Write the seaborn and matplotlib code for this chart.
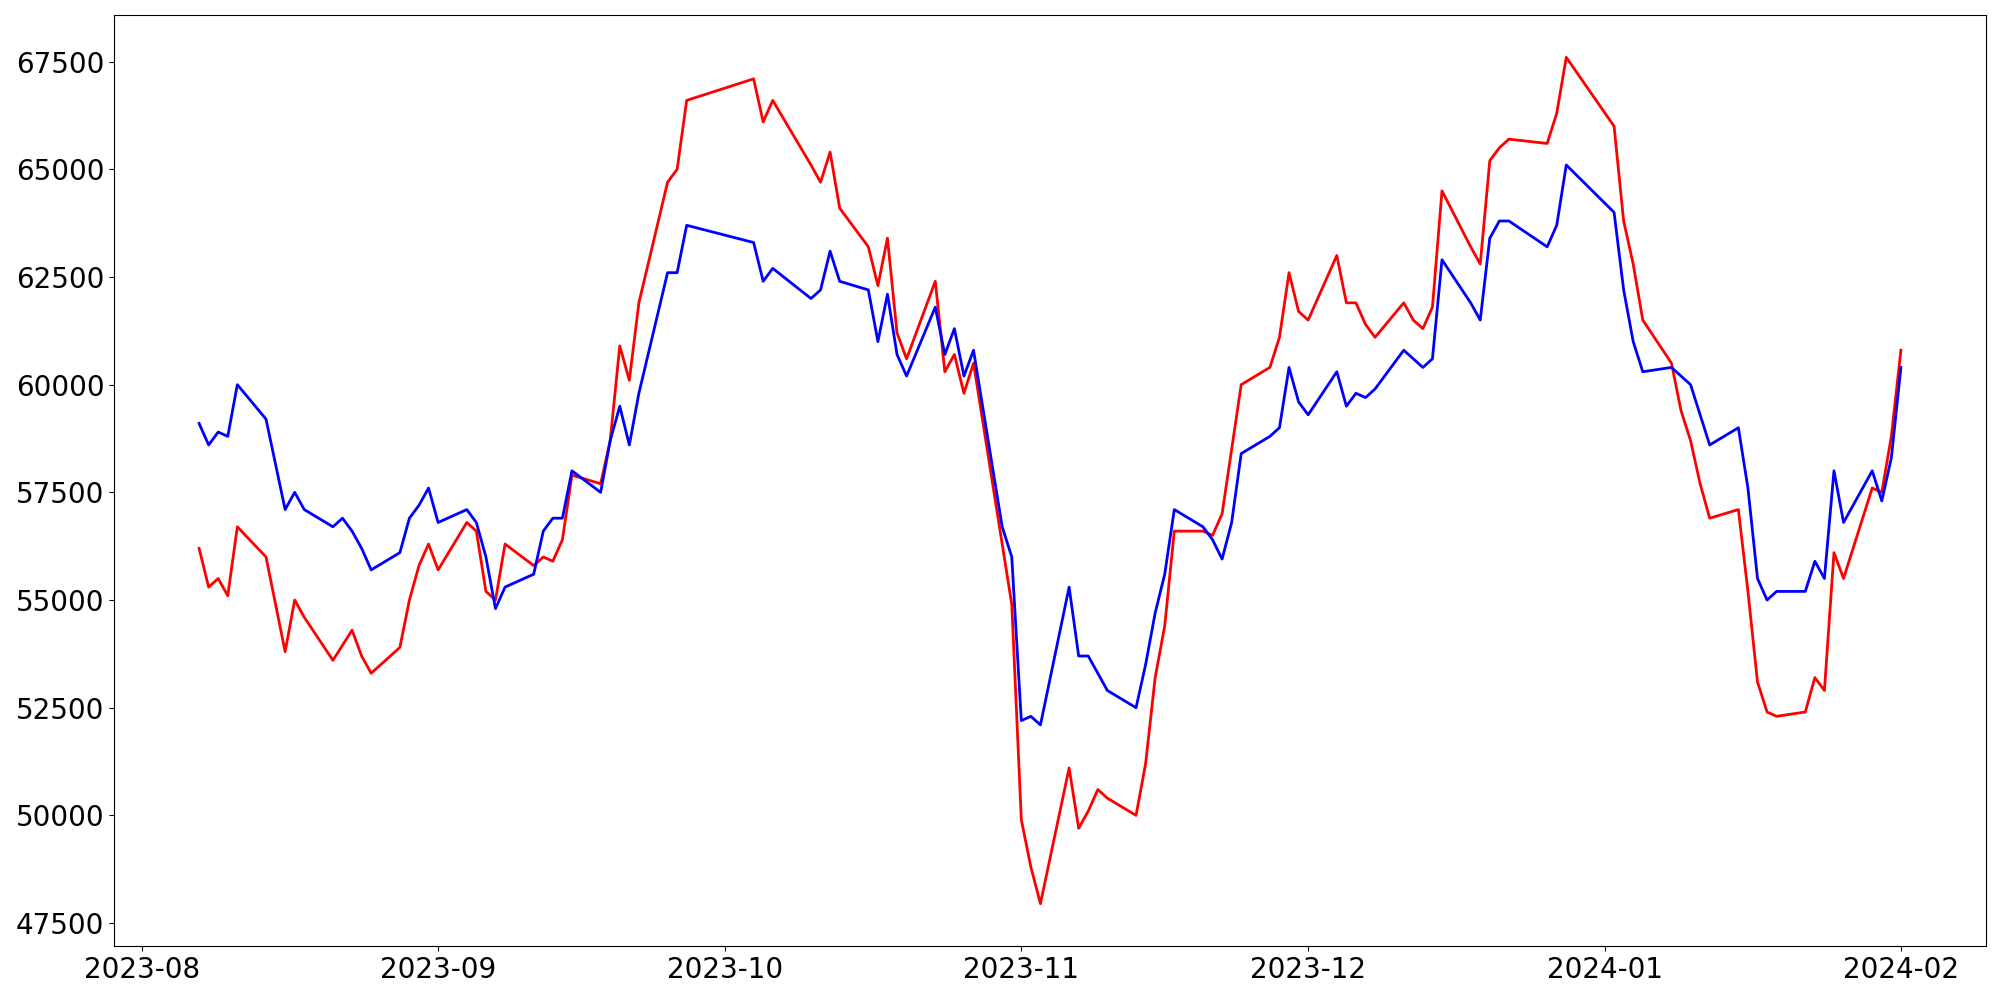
import pandas as pd
import matplotlib
matplotlib.use("Agg")
import matplotlib.pyplot as plt
import seaborn as sns

# jours de bourse (marché coréen) du 2023-08-07 au 2024-02-01
holidays = ["2023-08-15", "2023-09-28", "2023-09-29", "2023-10-02", "2023-10-03",
            "2023-10-09", "2023-12-25", "2023-12-29", "2024-01-01"]
dates = pd.bdate_range("2023-08-07", "2024-02-01", freq="C", holidays=holidays)

# série rouge
red_aug = [56200, 55300, 55500, 55100, 56700, 56000, 53800, 55000, 54600, 53600,
           53950, 54300, 53700, 53300, 53900, 55000, 55800, 56300]
red_sep = [55700, 56800, 56600, 55200, 55000, 56300, 55800, 56000, 55900, 56400,
           57900, 57700, 58700, 60900, 60100, 61900, 64700, 65000, 66600]
red_oct = [67100, 66100, 66600, 65100, 64700, 65400, 64100, 63200, 62300, 63400,
           61200, 60600, 62400, 60300, 60700, 59800, 60500, 56300, 54900]
red_nov = [49900, 48800, 47950, 51100, 49700, 50100, 50600, 50400, 50000, 51200,
           53200, 54400, 56600, 56600, 56500, 57000, 58500, 60000, 60400, 61100,
           62600, 61700]
red_dec = [61500, 63000, 61900, 61900, 61400, 61100, 61900, 61500, 61300, 61800,
           64500, 63200, 62800, 65200, 65500, 65700, 65600, 66300, 67600]
red_jan = [66000, 63800, 62800, 61500, 60500, 59400, 58700, 57700, 56900, 57100,
           55200, 53100, 52400, 52300, 52400, 53200, 52900, 56100, 55500, 57600,
           57500, 58800]
red_feb = [60800]

# série bleue
blue_aug = [59100, 58600, 58900, 58800, 60000, 59200, 57100, 57500, 57100, 56700,
            56900, 56600, 56200, 55700, 56100, 56900, 57200, 57600]
blue_sep = [56800, 57100, 56800, 56000, 54800, 55300, 55600, 56600, 56900, 56900,
            58000, 57500, 58700, 59500, 58600, 59800, 62600, 62600, 63700]
blue_oct = [63300, 62400, 62700, 62000, 62200, 63100, 62400, 62200, 61000, 62100,
            60700, 60200, 61800, 60700, 61300, 60200, 60800, 56700, 56000]
blue_nov = [52200, 52300, 52100, 55300, 53700, 53700, 53300, 52900, 52500, 53500,
            54700, 55600, 57100, 56700, 56400, 55950, 56800, 58400, 58800, 59000,
            60400, 59600]
blue_dec = [59300, 60300, 59500, 59800, 59700, 59900, 60800, 60600, 60400, 60600,
            62900, 61900, 61500, 63400, 63800, 63800, 63200, 63700, 65100]
blue_jan = [64000, 62200, 61000, 60300, 60400, 60200, 60000, 59300, 58600, 59000,
            57600, 55500, 55000, 55200, 55200, 55900, 55500, 58000, 56800, 58000,
            57300, 58300]
blue_feb = [60400]

red_values = red_aug + red_sep + red_oct + red_nov + red_dec + red_jan + red_feb
blue_values = blue_aug + blue_sep + blue_oct + blue_nov + blue_dec + blue_jan + blue_feb

df = pd.concat([
    pd.DataFrame({"date": dates, "valeur": red_values, "serie": "rouge"}),
    pd.DataFrame({"date": dates, "valeur": blue_values, "serie": "bleu"}),
])

fig, ax = plt.subplots(figsize=(20, 10), dpi=100)
sns.lineplot(data=df, x="date", y="valeur", hue="serie",
             palette={"rouge": "red", "bleu": "blue"},
             linewidth=2, legend=False, ax=ax)

ax.set_xlabel("")
ax.set_ylabel("")
ax.tick_params(labelsize=20)
fig.subplots_adjust(left=0.057, right=0.993, top=0.985, bottom=0.054)

plt.savefig("out.png", dpi=100)
